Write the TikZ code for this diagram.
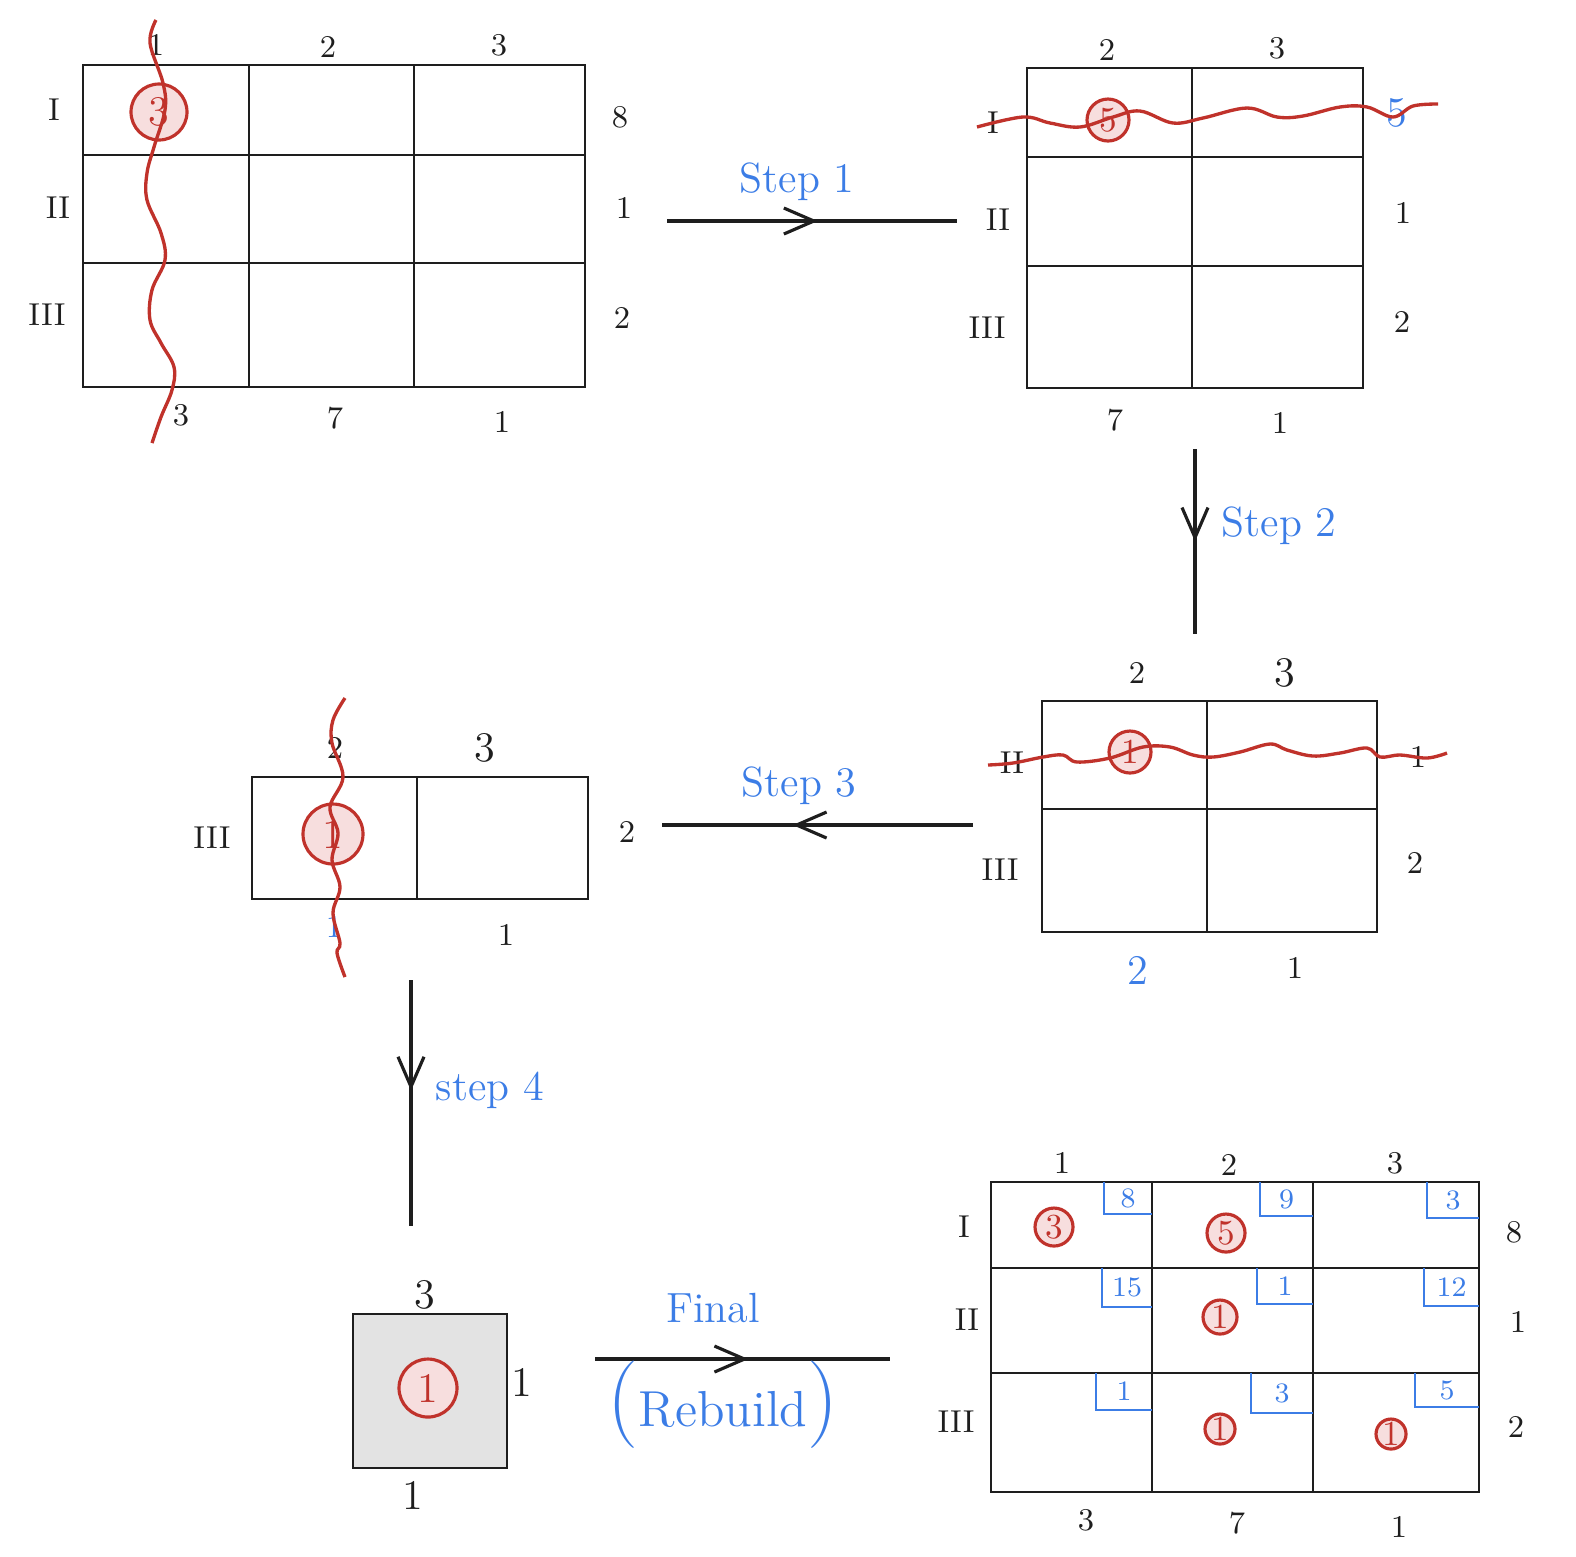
\documentclass[tikz,border=0pt]{standalone}
\usepackage{tikz}
\usetikzlibrary{arrows.meta,decorations.markings,positioning}
\definecolor{cink}{HTML}{1E1E1E}
\definecolor{cred}{HTML}{C0322B}
\definecolor{cblue}{HTML}{3C7DE6}
\definecolor{cpink}{HTML}{F7DEDE}
\definecolor{cgrey}{HTML}{E3E3E3}

\begin{document}
\begin{tikzpicture}[
    x=0.1mm, y=-0.1mm,
    grid/.style={draw=cink, line width=0.75pt},
    cut/.style={draw=cred, line width=0.95pt},
    lbl/.style={font=\small, text=cink, inner sep=1pt},
    big/.style={font=\large, text=cink, inner sep=1pt},
    blbl/.style={font=\large, text=cblue, inner sep=1pt},
    cost/.style={font=\footnotesize, text=cblue, inner sep=1pt},
    costbox/.style={draw=cblue, line width=0.7pt},
    alloc/.style={circle, draw=cred, line width=0.9pt, fill=cpink, text=cred,
                  inner sep=0pt, minimum size=#1},
    alloc/.default=3.8mm,
    steplbl/.style={font=\large, text=cblue},
    flow/.style={draw=cink, line width=0.9pt, postaction={decorate},
                 decoration={markings, mark=at position #1 with
                   {\arrow{Straight Barb[length=3mm, width=2.6mm, line width=0.9pt]}}}},
  ]
  \useasboundingbox (0,0) rectangle (1576,1556);

  \draw[grid] (83,65) rectangle (585,387);
  \draw[grid] (249,65) -- (249,387) (414,65) -- (414,387)
              (83,155) -- (585,155) (83,263) -- (585,263);
  \foreach \x/\y/\t [count=\i] in {156/45/1, 328/47/2, 499/45/3}
    \node[lbl] (g1h\i) at (\x,\y) {\t};
  \foreach \x/\y/\t [count=\i] in {54/110/I, 58/208/II, 47/315/III}
    \node[lbl] (g1r\i) at (\x,\y) {\t};
  \foreach \x/\y/\t [count=\i] in {620/117/8, 624/208/1, 622/318/2}
    \node[lbl] (g1s\i) at (\x,\y) {\t};
  \foreach \x/\y/\t [count=\i] in {181/415/3, 335/418/7, 502/422/1}
    \node[lbl] (g1b\i) at (\x,\y) {\t};
  \node[alloc=5.6mm, font=\large] (g1a) at (159,112) {3};
  \draw[cut] plot[smooth, tension=0.6] coordinates {(156,20) (150,43) (163,83) (165,110)
    (154,147) (147,173) (147,200) (161,233) (165,260) (152,290) (150,320) (161,343)
    (174,367) (172,390) (161,417) (152,443)};

  \coordinate (s1a) at (667,221);
  \coordinate (s1b) at (957,221);
  \draw[flow=0.52] (s1a) -- (s1b);
  \node[steplbl] (s1) at (797,182) {Step 1};

  \draw[grid] (1027,68) rectangle (1363,388);
  \draw[grid] (1192,68) -- (1192,388) (1027,157) -- (1363,157) (1027,266) -- (1363,266);
  \node[lbl] (g2h1) at (1107,50) {2};
  \node[lbl] (g2h2) at (1277,48) {3};
  \foreach \x/\y/\t [count=\i] in {993/123/I, 998/220/II, 987/328/III}
    \node[lbl] (g2r\i) at (\x,\y) {\t};
  \node[blbl] (g2s1) at (1397,113) {5};
  \node[lbl] (g2s2) at (1403,213) {1};
  \node[lbl] (g2s3) at (1402,322) {2};
  \node[lbl] (g2b1) at (1115,420) {7};
  \node[lbl] (g2b2) at (1280,423) {1};
  \node[alloc=4.2mm] (g2a) at (1108,120) {5};
  \draw[cut] plot[smooth, tension=0.6] coordinates {(977,127) (1023,117) (1050,123)
    (1080,127) (1113,117) (1140,111) (1173,123) (1203,118) (1247,108) (1277,117)
    (1303,116) (1340,107) (1367,107) (1393,117) (1413,106) (1438,104)};

  \coordinate (s2a) at (1195,449);
  \coordinate (s2b) at (1195,634);
  \draw[flow=0.5] (s2a) -- (s2b);
  \node[steplbl] (s2) at (1279,526) {Step 2};

  \draw[grid] (1042,701) rectangle (1377,932);
  \draw[grid] (1207,701) -- (1207,932) (1042,809) -- (1377,809);
  \node[lbl] (g3h1) at (1137,673) {2};
  \node[big] (g3h2) at (1285,673) {3};
  \node[lbl] (g3r1) at (1012,763) {II};
  \node[lbl] (g3r2) at (1000,870) {III};
  \node[lbl] (g3s1) at (1418,757) {1};
  \node[lbl] (g3s2) at (1415,863) {2};
  \node[blbl] (g3b1) at (1138,970) {2};
  \node[lbl] (g3b2) at (1295,968) {1};
  \node[alloc=4.2mm] (g3a) at (1130,752) {1};
  \draw[cut] plot[smooth, tension=0.6] coordinates {(988,765) (1013,763) (1043,757)
    (1063,755) (1077,762) (1110,758) (1143,747) (1170,747) (1193,755) (1213,757)
    (1240,752) (1270,744) (1287,750) (1313,756) (1340,753) (1367,748) (1380,757)
    (1400,755) (1427,758) (1447,753)};

  \coordinate (s3a) at (973,825);
  \coordinate (s3b) at (662,825);
  \draw[flow=0.58] (s3a) -- (s3b);
  \node[steplbl] (s3) at (799,786) {Step 3};

  \draw[grid] (252,777) rectangle (588,899);
  \draw[grid] (417,777) -- (417,899);
  \node[lbl] (g4h1) at (335,748) {2};
  \node[big] (g4h2) at (485,748) {3};
  \node[lbl] (g4r1) at (212,838) {III};
  \node[lbl] (g4s1) at (627,832) {2};
  \node[lbl, text=cblue] (g4b1) at (334,927) {1};
  \node[lbl] (g4b2) at (506,935) {1};
  \node[alloc=6mm, font=\large] (g4a) at (333,834) {1};
  \draw[cut] plot[smooth, tension=0.6] coordinates {(345,698) (333,720) (332,743)
    (343,777) (330,807) (338,833) (332,860) (340,887) (333,913) (340,943) (337,953)
    (345,977)};

  \coordinate (s4a) at (411,980);
  \coordinate (s4b) at (411,1226);
  \draw[flow=0.45] (s4a) -- (s4b);
  \node[steplbl] (s4) at (490,1090) {step 4};

  \draw[grid, fill=cgrey] (353,1314) rectangle (507,1468);
  \node[big] (g5h1) at (425,1295) {3};
  \node[big] (g5s1) at (522,1382) {1};
  \node[big] (g5b1) at (413,1495) {1};
  \node[alloc=5.8mm, font=\large] (g5a) at (428,1388) {1};

  \coordinate (fa) at (595,1359);
  \coordinate (fb) at (890,1359);
  \draw[flow=0.52] (fa) -- (fb);
  \node[steplbl] (fin) at (713,1308) {Final};
  \node[steplbl, font=\Large] (reb) at (723,1405) {{\Huge(}Rebuild{\Huge)}};

  \draw[grid] (991,1182) rectangle (1479,1492);
  \draw[grid] (1152,1182) -- (1152,1492) (1313,1182) -- (1313,1492)
              (991,1268) -- (1479,1268) (991,1373) -- (1479,1373);
  \foreach \x/\y/\t [count=\i] in {1062/1163/1, 1229/1165/2, 1395/1163/3}
    \node[lbl] (g6h\i) at (\x,\y) {\t};
  \foreach \x/\y/\t [count=\i] in {964/1227/I, 967/1320/II, 956/1422/III}
    \node[lbl] (g6r\i) at (\x,\y) {\t};
  \foreach \x/\y/\t [count=\i] in {1514/1232/8, 1518/1322/1, 1516/1427/2}
    \node[lbl] (g6s\i) at (\x,\y) {\t};
  \foreach \x/\y/\t [count=\i] in {1086/1520/3, 1237/1523/7, 1399/1527/1}
    \node[lbl] (g6b\i) at (\x,\y) {\t};
  \foreach \l/\t/\b/\r/\v [count=\i] in {1104/1182/1214/1152/8, 1260/1182/1216/1313/9,
      1427/1182/1218/1479/3, 1102/1268/1307/1152/15, 1257/1268/1304/1313/1,
      1424/1268/1306/1479/12, 1096/1373/1410/1152/1, 1251/1373/1413/1313/3,
      1415/1373/1407/1479/5} {
    \draw[costbox] (\l,\t) |- (\r,\b);
    \node[cost] (c\i) at ({(\l+\r)/2},{(\t+\b)/2}) {\v};
  }
  \node[alloc] (g6a1) at (1054,1227) {3};
  \node[alloc] (g6a2) at (1226,1233) {5};
  \node[alloc=3.4mm] (g6a3) at (1220,1317) {1};
  \node[alloc=3mm] (g6a4) at (1220,1429) {1};
  \node[alloc=3mm] (g6a5) at (1391,1434) {1};
\end{tikzpicture}
\end{document}
